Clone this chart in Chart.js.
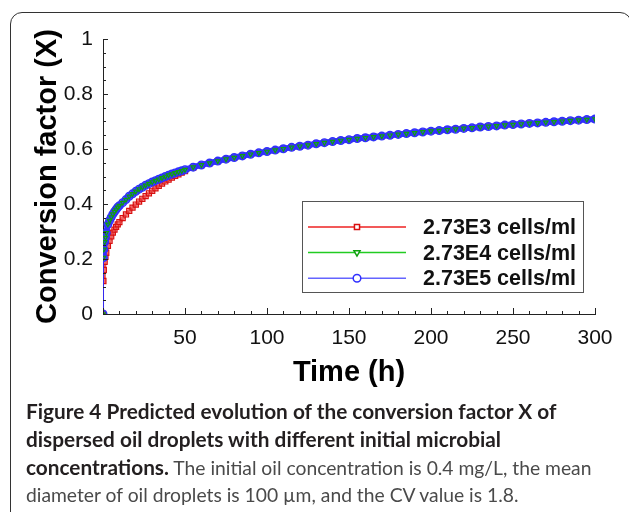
<!DOCTYPE html>
<html lang="en">
<head>
   <meta charset="UTF-8" />
   <title>Conversion factor X vs time</title>
   <style>
      body {
         margin: 0;
         padding: 0;
         background: #ffffff;
         width: 629px;
         height: 512px;
         overflow: hidden;
         position: relative;
      }
      .frame {
         position: absolute;
         left: 10px;
         top: 12px;
         width: 620px;
         height: 530px;
         border: 1.5px solid #333;
         border-radius: 12px;
      }
      .chart-box {
         position: absolute;
         left: 0;
         top: 0;
         width: 629px;
         height: 400px;
      }
      .caption {
         position: absolute;
         left: 26px;
         top: 397px;
         font-family: Lato, "Open Sans", Arial, sans-serif;
         font-size: 19.3px;
         line-height: 27px;
         color: #4a4a4a;
         white-space: nowrap;
      }
      .caption b {
         color: #231f20;
         font-weight: 700;
         font-size: 20.8px;
      }
   </style>
   <script src="https://cdn.jsdelivr.net/npm/chart.js@4.4.1/dist/chart.umd.min.js"></script>
</head>
<body>
   <div class="frame"></div>
   <div class="chart-box">
      <canvas id="convChart" aria-label="chart"></canvas>
   </div>
   <div class="caption"><b>Figure 4 Predicted evolution of the conversion factor X of<br>dispersed oil droplets with different initial microbial<br>concentrations.</b> The initial oil concentration is 0.4 mg/L, the mean<br>diameter of oil droplets is 100 µm, and the CV value is 1.8.</div>

   <script>
      // time (h)
      const times = [0, 0.25, 0.5, 1, 1.5, 2, 3, 4, 5, 6, 7, 8, 9, 10, 12, 14, 16, 18, 20, 22, 24, 26, 28, 30,
         32, 34, 36, 38, 40, 42, 44, 46, 48, 50, 55, 60, 65, 70, 75, 80, 85, 90, 95, 100, 105, 110, 115, 120,
         125, 130, 135, 140, 145, 150, 155, 160, 165, 170, 175, 180, 185, 190, 195, 200, 205, 210, 215, 220,
         225, 230, 235, 240, 245, 250, 255, 260, 265, 270, 275, 280, 285, 290, 295, 300];

      // conversion factor X, 2.73E3 cells/ml
      const conv2e3 = [0, 0.120, 0.160, 0.190, 0.208, 0.222, 0.248, 0.266, 0.282, 0.296, 0.307, 0.317, 0.326, 0.334,
         0.349, 0.362, 0.375, 0.387, 0.398, 0.409, 0.419, 0.429, 0.439, 0.448, 0.457, 0.466, 0.474, 0.482, 0.489,
         0.496, 0.502, 0.508, 0.514, 0.520, 0.532, 0.541, 0.549, 0.556, 0.563, 0.569, 0.575, 0.581, 0.586, 0.591,
         0.596, 0.601, 0.606, 0.610, 0.614, 0.619, 0.623, 0.627, 0.631, 0.634, 0.638, 0.641, 0.644, 0.647, 0.650,
         0.653, 0.656, 0.659, 0.662, 0.665, 0.667, 0.670, 0.672, 0.675, 0.677, 0.680, 0.682, 0.684, 0.687, 0.689,
         0.691, 0.693, 0.695, 0.697, 0.699, 0.701, 0.703, 0.705, 0.707, 0.709];

      // 2.73E4 cells/ml
      const conv2e4 = [0, 0.205, 0.235, 0.262, 0.278, 0.295, 0.326, 0.340, 0.352, 0.363, 0.372, 0.380, 0.388, 0.394,
         0.405, 0.416, 0.428, 0.437, 0.446, 0.454, 0.461, 0.468, 0.474, 0.480, 0.485, 0.490, 0.495, 0.500, 0.505,
         0.509, 0.513, 0.517, 0.521, 0.525, 0.534, 0.542, 0.549, 0.556, 0.563, 0.569, 0.575, 0.581, 0.586, 0.591,
         0.596, 0.601, 0.606, 0.610, 0.614, 0.619, 0.623, 0.627, 0.631, 0.634, 0.638, 0.641, 0.644, 0.647, 0.650,
         0.653, 0.656, 0.659, 0.662, 0.665, 0.667, 0.670, 0.672, 0.675, 0.677, 0.680, 0.682, 0.684, 0.687, 0.689,
         0.691, 0.693, 0.695, 0.697, 0.699, 0.701, 0.703, 0.705, 0.707, 0.709];

      // 2.73E5 cells/ml
      const conv2e5 = [0, 0.205, 0.235, 0.262, 0.278, 0.295, 0.326, 0.340, 0.352, 0.363, 0.372, 0.380, 0.388, 0.394,
         0.405, 0.416, 0.428, 0.437, 0.446, 0.454, 0.461, 0.468, 0.474, 0.480, 0.485, 0.490, 0.495, 0.500, 0.505,
         0.509, 0.513, 0.517, 0.521, 0.525, 0.534, 0.542, 0.549, 0.556, 0.563, 0.569, 0.575, 0.581, 0.586, 0.591,
         0.596, 0.601, 0.606, 0.610, 0.614, 0.619, 0.623, 0.627, 0.631, 0.634, 0.638, 0.641, 0.644, 0.647, 0.650,
         0.653, 0.656, 0.659, 0.662, 0.665, 0.667, 0.670, 0.672, 0.675, 0.677, 0.680, 0.682, 0.684, 0.687, 0.689,
         0.691, 0.693, 0.695, 0.697, 0.699, 0.701, 0.703, 0.705, 0.707, 0.709];

      const seriesLabels = ['2.73E3 cells/ml', '2.73E4 cells/ml', '2.73E5 cells/ml'];
      const yTicks = [0, 0.2, 0.4, 0.6, 0.8, 1];
      const xTicks = [50, 100, 150, 200, 250, 300];

      const sans = '"Liberation Sans", Arial, sans-serif';

      function toPoints(ys) {
         return times.map((t, i) => ({ x: t, y: ys[i] }));
      }

      // inward minor/major ticks on both axes
      const innerTicks = {
         id: 'innerTicks',
         afterDraw(chart) {
            const { ctx } = chart;
            const xs = chart.scales.x, ys = chart.scales.y;
            const area = chart.chartArea;
            ctx.save();
            ctx.strokeStyle = '#222';
            ctx.lineWidth = 1;
            ctx.beginPath();
            for (let v = xs.min; v <= xs.max; v += 10) {
               const px = Math.round(xs.getPixelForValue(v)) + 0.5;
               const len = v % 50 === 0 ? 6 : 3;
               ctx.moveTo(px, area.bottom);
               ctx.lineTo(px, area.bottom - len);
            }
            for (let k = 0; k <= 20; k++) {
               const py = Math.round(ys.getPixelForValue(k * 0.05)) + 0.5;
               const len = k % 4 === 0 ? 5 : 3;
               ctx.moveTo(area.left, py);
               ctx.lineTo(area.left + len, py);
            }
            ctx.stroke();
            ctx.restore();
         }
      };

      // boxed legend in the lower right of the plot area
      const boxLegend = {
         id: 'boxLegend',
         afterDatasetsDraw(chart) {
            const { ctx, chartArea } = chart;
            const w = 281, h = 91;
            const x0 = chartArea.right - 12 - w;
            const y0 = chartArea.bottom - 22 - h;
            ctx.save();
            ctx.fillStyle = '#fff';
            ctx.fillRect(x0, y0, w, h);
            ctx.strokeStyle = '#555';
            ctx.lineWidth = 1;
            ctx.strokeRect(x0 + 0.5, y0 + 0.5, w, h);
            // legend rows: red, green, blue (datasets are stored top-most first)
            const order = [2, 0, 1];
            order.forEach((di, row) => {
               const ds = chart.data.datasets[di];
               const y = y0 + 26 + row * 25.6;
               ctx.strokeStyle = ds.legendColor;
               ctx.lineWidth = 1.5;
               ctx.beginPath();
               ctx.moveTo(x0 + 6, y);
               ctx.lineTo(x0 + 104, y);
               ctx.stroke();
               ctx.fillStyle = '#fff';
               ctx.strokeStyle = ds.pointBorderColor;
               Chart.helpers.drawPoint(ctx, {
                  pointStyle: ds.pointStyle,
                  rotation: ds.pointRotation || 0,
                  radius: ds.legendRadius,
                  borderWidth: 1.2
               }, x0 + 55, y);
               ctx.fillStyle = '#111';
               ctx.font = 'bold 21.5px ' + sans;
               ctx.textBaseline = 'middle';
               ctx.textAlign = 'left';
               ctx.fillText(ds.label, x0 + 121, y + 1);
            });
            ctx.restore();
         }
      };

      const ctx = document.getElementById('convChart').getContext('2d');
      new Chart(ctx, {
         type: 'line',
         data: {
            datasets: [
               {
                  label: seriesLabels[1],
                  data: toPoints(conv2e4),
                  borderColor: '#11b011',
                  legendColor: '#22cc22',
                  borderWidth: 0,
                  showLine: false,
                  pointStyle: 'triangle',
                  pointRotation: 180,
                  pointRadius: 2.5,
                  legendRadius: 3.5,
                  pointBorderWidth: 1.2,
                  pointBackgroundColor: 'rgba(0,0,0,0)',
                  pointBorderColor: '#0ea00e'
               },
               {
                  label: seriesLabels[2],
                  data: toPoints(conv2e5),
                  borderColor: 'rgba(40,40,255,0.92)',
                  legendColor: '#6464ff',
                  segment: {
                     borderWidth: c => c.p0DataIndex === 0 ? 1.2 : 6
                  },
                  pointStyle: 'circle',
                  pointRadius: 3.8,
                  legendRadius: 3.8,
                  pointBorderWidth: 1.4,
                  pointBackgroundColor: 'rgba(60,60,255,0.55)',
                  pointBorderColor: '#3030ff'
               },
               {
                  label: seriesLabels[0],
                  data: toPoints(conv2e3),
                  borderColor: 'rgba(225,40,40,0.8)',
                  legendColor: '#ee2222',
                  segment: {
                     borderWidth: c => c.p0DataIndex === 0 ? 1.2 : 4
                  },
                  pointStyle: 'rect',
                  pointRadius: 3.6,
                  legendRadius: 3.6,
                  pointBorderWidth: 1.2,
                  pointBackgroundColor: 'rgba(255,140,140,0.35)',
                  pointBorderColor: '#d81010'
               }
            ]
         },
         options: {
            responsive: true,
            maintainAspectRatio: false,
            animation: false,
            layout: {
               padding: { top: 39, right: 34, bottom: 0, left: 0 }
            },
            plugins: {
               legend: { display: false },
               tooltip: { enabled: false }
            },
            elements: {
               line: { tension: 0 }
            },
            scales: {
               x: {
                  type: 'linear',
                  min: 0,
                  max: 300,
                  afterFit: s => { s.height = 86; },
                  afterBuildTicks: s => { s.ticks = xTicks.map(v => ({ value: v })); },
                  grid: { display: true, drawOnChartArea: false, drawTicks: false },
                  border: { display: true, color: '#222', width: 1 },
                  ticks: {
                     color: '#111',
                     padding: 12,
                     maxRotation: 0,
                     font: { family: sans, size: 21 }
                  },
                  title: {
                     display: true,
                     text: 'Time (h)',
                     color: '#000',
                     padding: { top: 0, bottom: 10 },
                     font: { family: sans, size: 29, weight: 'bold' }
                  }
               },
               y: {
                  type: 'linear',
                  min: 0,
                  max: 1,
                  afterFit: s => { s.width = 103; },
                  afterBuildTicks: s => { s.ticks = yTicks.map(v => ({ value: v })); },
                  grid: { display: true, drawOnChartArea: false, drawTicks: false },
                  border: { display: true, color: '#222', width: 1 },
                  ticks: {
                     color: '#111',
                     padding: 10,
                     font: { family: sans, size: 21 },
                     callback: v => String(v)
                  },
                  title: {
                     display: true,
                     text: 'Conversion factor (X)',
                     color: '#000',
                     padding: { top: 31, bottom: 0 },
                     font: { family: sans, size: 29, weight: 'bold' }
                  }
               }
            }
         },
         plugins: [innerTicks, boxLegend]
      });
   </script>
</body>
</html>
